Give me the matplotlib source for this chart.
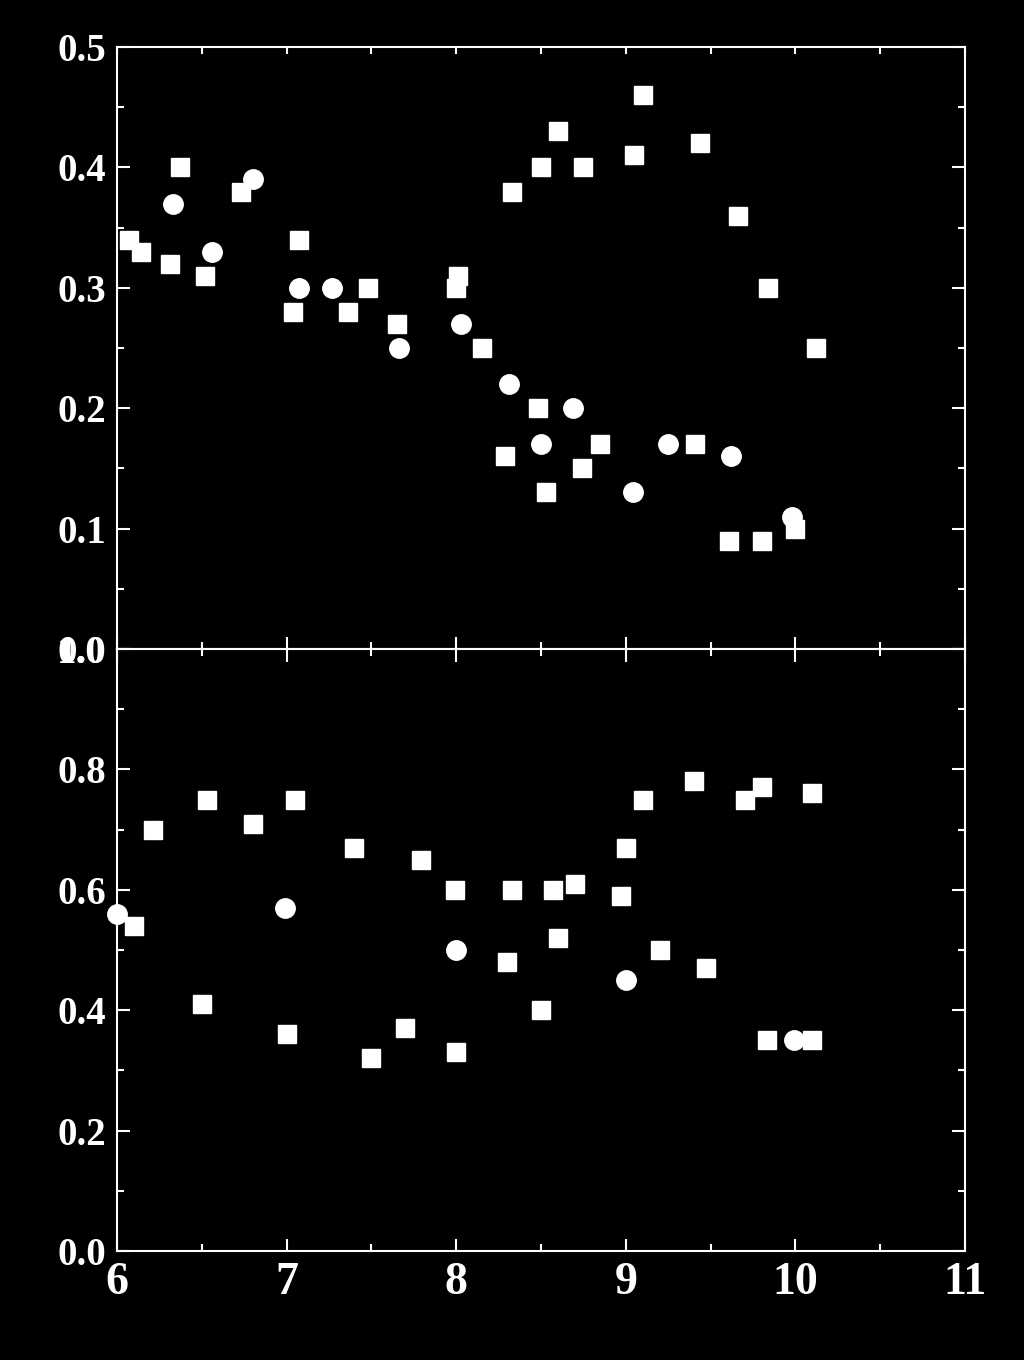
import matplotlib
matplotlib.use("Agg")
import matplotlib.pyplot as plt
from matplotlib.ticker import MultipleLocator

# top panel: squares and circles
top_sq_x = [6.07, 6.14, 6.31, 6.37, 6.52, 6.73, 7.04, 7.07, 7.36, 7.48, 7.65, 8.00, 8.01,
            8.15, 8.29, 8.33, 8.48, 8.50, 8.53, 8.60, 8.74, 8.75, 8.85, 9.05, 9.10, 9.41,
            9.44, 9.61, 9.66, 9.80, 9.84, 10.00, 10.12]
top_sq_y = [0.34, 0.33, 0.32, 0.40, 0.31, 0.38, 0.28, 0.34, 0.28, 0.30, 0.27, 0.30, 0.31,
            0.25, 0.16, 0.38, 0.20, 0.40, 0.13, 0.43, 0.15, 0.40, 0.17, 0.41, 0.46, 0.17,
            0.42, 0.09, 0.36, 0.09, 0.30, 0.10, 0.25]
top_ci_x = [6.33, 6.56, 6.80, 7.07, 7.27, 7.66, 8.03, 8.31, 8.50, 8.69, 9.04, 9.25, 9.62, 9.98]
top_ci_y = [0.37, 0.33, 0.39, 0.30, 0.30, 0.25, 0.27, 0.22, 0.17, 0.20, 0.13, 0.17, 0.16, 0.11]

# bottom panel
bot_sq_x = [6.10, 6.21, 6.50, 6.53, 6.80, 7.00, 7.05, 7.40, 7.50, 7.70, 7.79, 7.99, 8.00,
            8.30, 8.33, 8.50, 8.57, 8.60, 8.70, 8.97, 9.00, 9.10, 9.20, 9.40, 9.47, 9.70,
            9.80, 9.83, 10.10, 10.10]
bot_sq_y = [0.54, 0.70, 0.41, 0.75, 0.71, 0.36, 0.75, 0.67, 0.32, 0.37, 0.65, 0.60, 0.33,
            0.48, 0.60, 0.40, 0.60, 0.52, 0.61, 0.59, 0.67, 0.75, 0.50, 0.78, 0.47, 0.75,
            0.77, 0.35, 0.76, 0.35]
bot_ci_x = [6.00, 6.99, 8.00, 9.00, 9.99]
bot_ci_y = [0.56, 0.57, 0.50, 0.45, 0.35]

top_yticks = [0.0, 0.1, 0.2, 0.3, 0.4, 0.5]
bot_yticks = [0.0, 0.2, 0.4, 0.6, 0.8, 1.0]
xticks = [6, 7, 8, 9, 10, 11]

plt.rcParams['font.family'] = ['Liberation Serif', 'DejaVu Serif']
plt.rcParams['font.weight'] = 'bold'

fig = plt.figure(figsize=(10.24, 13.6), dpi=100, facecolor='black')
ax1 = fig.add_axes([0.1143, 0.5228, 0.8281, 0.4426])
ax2 = fig.add_axes([0.1143, 0.0801, 0.8281, 0.4427])

def style(ax):
    ax.set_facecolor('black')
    for s in ax.spines.values():
        s.set_color('white')
        s.set_linewidth(1.5)
    ax.set_xlim(6, 11)
    ax.xaxis.set_major_locator(MultipleLocator(1))
    ax.xaxis.set_minor_locator(MultipleLocator(0.5))
    ax.tick_params(axis='both', which='both', direction='in', colors='white',
                   right=True, width=1.5)
    ax.tick_params(axis='x', which='major', length=9)
    ax.tick_params(axis='x', which='minor', length=5)
    ax.tick_params(axis='y', which='major', length=9.5, labelsize=28, pad=8)
    ax.tick_params(axis='y', which='minor', length=5)

mk = dict(color='white', linestyle='none', clip_on=False)

ax1.plot(top_sq_x, top_sq_y, marker='s', markersize=13, **mk)
ax1.plot(top_ci_x, top_ci_y, marker='o', markersize=14, **mk)
ax1.set_ylim(0, 0.5)
ax1.yaxis.set_minor_locator(MultipleLocator(0.05))
style(ax1)
ax1.tick_params(axis='x', which='both', labelbottom=False)
ax1.set_yticks(top_yticks)
ax1.set_yticklabels([f'{v:.1f}' for v in top_yticks], fontweight='bold')
# short ticks along the top edge
top = ax1.secondary_xaxis('top')
top.xaxis.set_major_locator(MultipleLocator(0.5))
top.tick_params(axis='x', which='both', direction='in', length=5, width=1.5,
                colors='white', labeltop=False)
top.spines['top'].set_visible(False)

ax2.plot(bot_sq_x, bot_sq_y, marker='s', markersize=13, **mk)
ax2.plot(bot_ci_x, bot_ci_y, marker='o', markersize=14, **mk)
ax2.set_ylim(0, 1.0)
ax2.yaxis.set_minor_locator(MultipleLocator(0.1))
style(ax2)
ax2.tick_params(axis='x', which='both', top=True)
ax2.tick_params(axis='x', which='major', labelsize=33, pad=8)
ax2.set_yticks(bot_yticks)
ax2.set_yticklabels([f'{v:.1f}' for v in bot_yticks], fontweight='bold')
ax2.set_xticks(xticks)
ax2.set_xticklabels([str(v) for v in xticks], fontweight='bold')

fig.savefig('out.png', dpi=100, facecolor='black')
